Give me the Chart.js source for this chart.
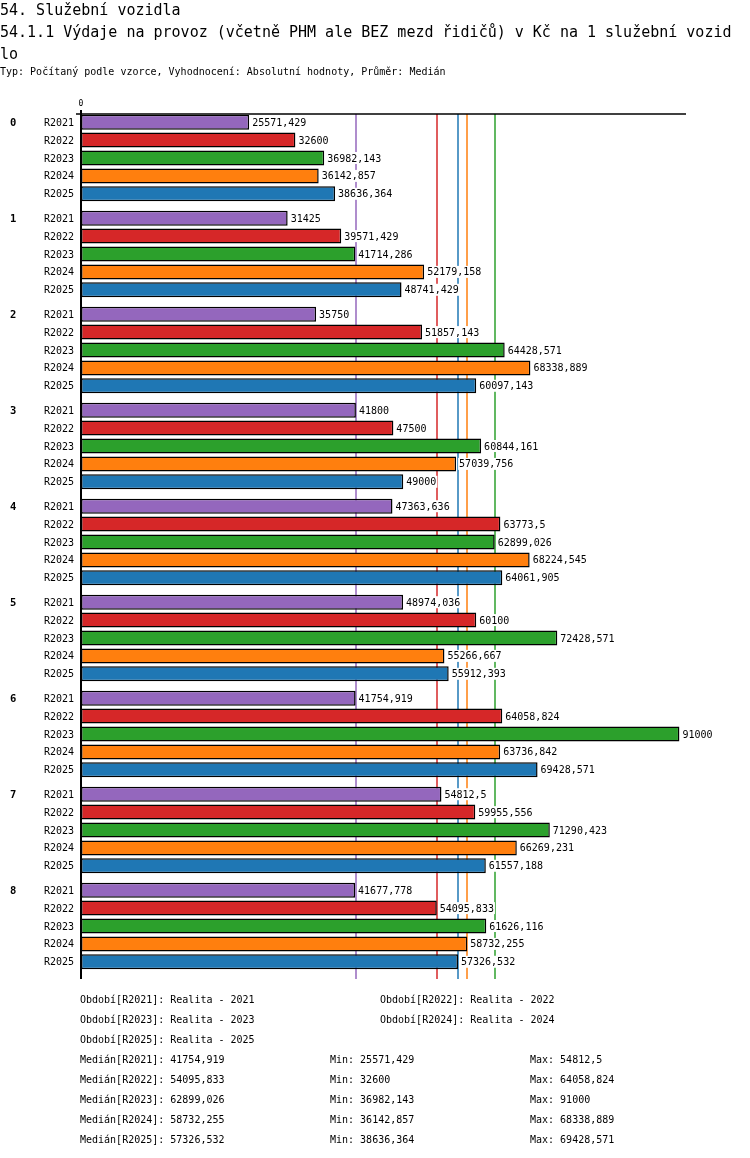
<!DOCTYPE html>
<html>
<head>
<meta charset="utf-8">
<script src="https://cdn.jsdelivr.net/npm/chart.js@4.4.1/dist/chart.umd.min.js"></script>
<style>
  body { margin: 0; background: #fff; }
  #wrap { position: relative; width: 750px; height: 1158px; overflow: hidden; }
  #chart { position: absolute; left: 0; top: 0; }
  .title { position: absolute; left: 0; font-family: 'DejaVu Sans Mono', monospace; color: #000; white-space: pre; }
  #t1 { top: -1.5px; font-size: 15px; line-height: 22px; }
  #t2 { top: 66px; font-size: 10px; line-height: 12px; }
</style>
</head>
<body>
<div id="wrap">
  <canvas id="chart" width="750" height="1158"></canvas>
  <div class="title" id="t1">54. Služební vozidla
54.1.1 Výdaje na provoz (včetně PHM ale BEZ mezd řidičů) v Kč na 1 služební vozid
lo</div>
  <div class="title" id="t2">Typ: Počítaný podle vzorce, Vyhodnocení: Absolutní hodnoty, Průměr: Medián</div>
</div>
<script>
// skupiny a období
var groups = ["0", "1", "2", "3", "4", "5", "6", "7", "8"];
var periods = ["R2021", "R2022", "R2023", "R2024", "R2025"];
var periodNames = ["Realita - 2021", "Realita - 2022", "Realita - 2023", "Realita - 2024", "Realita - 2025"];

// hodnoty v Kč
var r2021 = [25571.429, 31425, 35750, 41800, 47363.636, 48974.036, 41754.919, 54812.5, 41677.778];
var r2022 = [32600, 39571.429, 51857.143, 47500, 63773.5, 60100, 64058.824, 59955.556, 54095.833];
var r2023 = [36982.143, 41714.286, 64428.571, 60844.161, 62899.026, 72428.571, 91000, 71290.423, 61626.116];
var r2024 = [36142.857, 52179.158, 68338.889, 57039.756, 68224.545, 55266.667, 63736.842, 66269.231, 58732.255];
var r2025 = [38636.364, 48741.429, 60097.143, 49000, 64061.905, 55912.393, 69428.571, 61557.188, 57326.532];

var colors = ["#9467bd", "#d62728", "#2ca02c", "#ff7f0e", "#1f77b4"];
var series = [r2021, r2022, r2023, r2024, r2025];

function median(arr) {
    var s = arr.slice().sort(function (a, b) { return a - b; });
    var m = Math.floor(s.length / 2);
    return s.length % 2 ? s[m] : (s[m - 1] + s[m]) / 2;
}
function fmt(v) {
    return String(Math.round(v * 1000) / 1000).replace('.', ',');
}

var medians = series.map(median);
var mins = series.map(function (a) { return Math.min.apply(null, a); });
var maxs = series.map(function (a) { return Math.max.apply(null, a); });

var FONT = "'DejaVu Sans Mono', monospace";

var overlay = {
    id: 'overlay',
    beforeDatasetsDraw: function (chart) {
        var ctx = chart.ctx, x = chart.scales.x, area = chart.chartArea;
        var top = area.top + 4, bottom = area.bottom + 5;
        ctx.save();
        ctx.lineWidth = 1.5;
        medians.forEach(function (m, i) {
            var px = Math.round(x.getPixelForValue(m));
            ctx.strokeStyle = colors[i];
            ctx.beginPath();
            ctx.moveTo(px, top);
            ctx.lineTo(px, bottom);
            ctx.stroke();
        });
        ctx.restore();
    },
    afterDatasetsDraw: function (chart) {
        var ctx = chart.ctx, x = chart.scales.x, area = chart.chartArea;
        var top = area.top + 4, bottom = area.bottom + 5;
        var x0 = x.getPixelForValue(0);
        ctx.save();
        // osy
        ctx.strokeStyle = '#000';
        ctx.lineWidth = 1.5;
        ctx.beginPath();
        ctx.moveTo(x0 - 5, top);
        ctx.lineTo(area.right, top);
        ctx.stroke();
        ctx.lineWidth = 2;
        ctx.beginPath();
        ctx.moveTo(x0, top - 4);
        ctx.lineTo(x0, bottom);
        ctx.stroke();
        ctx.font = '8px ' + FONT;
        ctx.fillStyle = '#000';
        ctx.textAlign = 'center';
        ctx.textBaseline = 'alphabetic';
        ctx.fillText('0', x0, top - 8);

        // popisky sloupců
        chart.data.datasets.forEach(function (ds, di) {
            var meta = chart.getDatasetMeta(di);
            meta.data.forEach(function (bar, i) {
                var y = bar.y;
                var txt = fmt(ds.data[i]);
                ctx.font = '10px ' + FONT;
                var w = ctx.measureText(txt).width;
                var tx = bar.x + 3;
                ctx.fillStyle = '#fff';
                ctx.fillRect(tx - 1, y - 6, w + 2, 12);
                ctx.fillStyle = '#000';
                ctx.textAlign = 'left';
                ctx.fillText(txt, tx, y + 3.5);
                ctx.textAlign = 'right';
                ctx.fillText(periods[di], x0 - 7, y + 3.5);
                if (di === 0) {
                    ctx.font = 'bold 10.5px ' + FONT;
                    ctx.textAlign = 'left';
                    ctx.fillText(groups[i], 10, y + 3.5);
                }
            });
        });
        ctx.restore();
    },
    afterDraw: function (chart) {
        var ctx = chart.ctx;
        ctx.save();
        ctx.font = '10px ' + FONT;
        ctx.fillStyle = '#000';
        ctx.textAlign = 'left';
        ctx.textBaseline = 'alphabetic';
        var base = 1003;
        periods.forEach(function (p, i) {
            var col = i % 2, row = Math.floor(i / 2);
            ctx.fillText('Období[' + p + ']: ' + periodNames[i], col ? 380 : 80, base + row * 20);
        });
        periods.forEach(function (p, i) {
            var y = base + (3 + i) * 20;
            ctx.fillText('Medián[' + p + ']: ' + fmt(medians[i]), 80, y);
            ctx.fillText('Min: ' + fmt(mins[i]), 330, y);
            ctx.fillText('Max: ' + fmt(maxs[i]), 530, y);
        });
        ctx.restore();
    }
};

new Chart(document.getElementById('chart'), {
    type: 'bar',
    data: {
        labels: groups,
        datasets: series.map(function (vals, i) {
            return {
                label: periods[i],
                data: vals,
                backgroundColor: colors[i],
                borderColor: '#000',
                borderWidth: 1.5,
                borderSkipped: false,
                categoryPercentage: 0.932,
                barPercentage: 0.838
            };
        })
    },
    options: {
        indexAxis: 'y',
        responsive: false,
        animation: false,
        layout: { padding: { left: 81, right: 64, top: 110, bottom: 184 } },
        scales: {
            x: { display: false, min: 0, max: 92000 },
            y: { display: false }
        },
        plugins: {
            legend: { display: false },
            tooltip: { enabled: false }
        }
    },
    plugins: [overlay]
});
</script>
</body>
</html>
